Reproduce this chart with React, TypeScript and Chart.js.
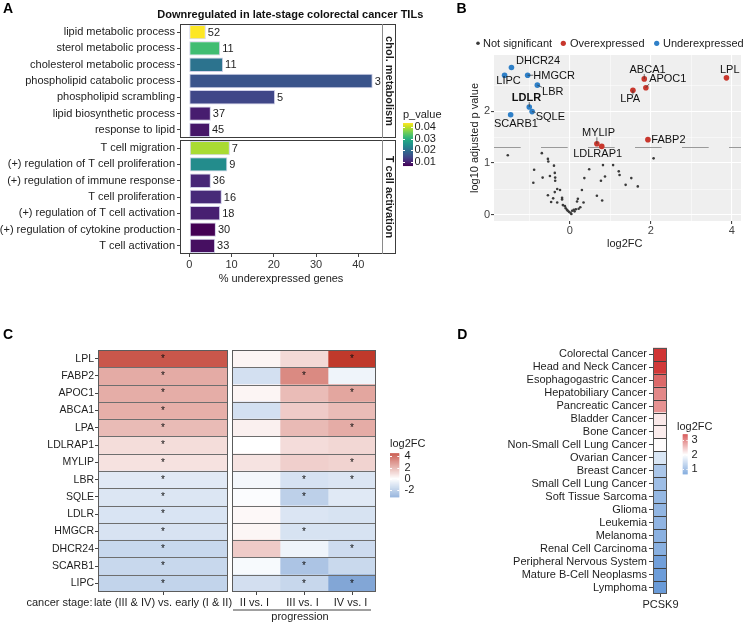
import React, { useEffect, useRef } from "react";
import { Chart, registerables } from "chart.js";

Chart.register(...registerables);

const FONT = "'Liberation Sans', Arial, Helvetica, sans-serif";
Chart.defaults.font.family = FONT;
Chart.defaults.font.size = 11;
Chart.defaults.color = "#222";

const W = 745;
const H = 624;

/* ---------------- Panel A data ---------------- */
const A_CHOL_TERMS = [
  "lipid metabolic process",
  "sterol metabolic process",
  "cholesterol metabolic process",
  "phospholipid catabolic process",
  "phospholipid scrambling",
  "lipid biosynthetic process",
  "response to lipid",
];
const A_CHOL_PCT = [3.9, 7.3, 8.0, 43.4, 20.3, 5.1, 4.9];
const A_CHOL_N = [52, 11, 11, 3, 5, 37, 45];
const A_CHOL_P = [0.0435, 0.032, 0.0206, 0.0161, 0.0143, 0.0095, 0.0087];

const A_TCELL_TERMS = [
  "T cell migration",
  "(+) regulation of T cell proliferation",
  "(+) regulation of immune response",
  "T cell proliferation",
  "(+) regulation of T cell activation",
  "(+) regulation of cytokine production",
  "T cell activation",
];
const A_TCELL_PCT = [9.6, 9.0, 5.1, 7.7, 7.3, 6.3, 6.1];
const A_TCELL_N = [7, 9, 36, 16, 18, 30, 33];
const A_TCELL_P = [0.0387, 0.0243, 0.0106, 0.0109, 0.0098, 0.0065, 0.008];

const A_X_TICKS = [0, 10, 20, 30, 40];
const A_P_TICKS = [0.01, 0.02, 0.03, 0.04];
const A_STRIPS = ["chol. metabolism", "T cell activation"];

/* ---------------- Panel B data ---------------- */
const B_NS_X = [-1.53, -0.69, -0.54, -0.53, -0.88, -0.39, -0.37, -0.67, -0.49, -0.36, -0.36, -0.9, -0.31, -0.24, -0.37, -0.54, -0.41, -0.19, -0.19, -0.46, -0.31, -0.12, -0.1, -0.07, -0.02, 0.02, 0.06, 0.1, 0.15, 0.22, 0.26, 0.18, 0.2, 0.34, 0.3, 0.36, 0.48, 0.82, 1.07, 0.87, 0.77, 1.21, 1.23, 1.52, 1.38, 1.68, 0.67, 0.8, 2.07, -0.17, -0.05, 0.04, 0.12];
const B_NS_Y = [1.15, 1.19, 1.08, 1.03, 0.87, 0.95, 0.81, 0.72, 0.75, 0.72, 0.66, 0.62, 0.5, 0.48, 0.44, 0.38, 0.32, 0.33, 0.3, 0.25, 0.24, 0.17, 0.13, 0.1, 0.06, 0.04, 0.08, 0.1, 0.11, 0.12, 0.15, 0.26, 0.31, 0.24, 0.48, 0.71, 0.88, 0.96, 0.96, 0.74, 0.66, 0.84, 0.77, 0.71, 0.58, 0.55, 0.37, 0.28, 1.09, 0.19, 0.08, 0.02, 0.07];
const B_UP_GENES = ["ABCA1", "APOC1", "LPA", "LPL", "MYLIP", "LDLRAP1", "FABP2"];
const B_UP_X = [1.84, 1.88, 1.56, 3.87, 0.67, 0.79, 1.93];
const B_UP_Y = [2.62, 2.45, 2.4, 2.64, 1.37, 1.32, 1.45];
const B_DOWN_GENES = ["DHCR24", "LIPC", "HMGCR", "LBR", "LDLR", "SQLE", "SCARB1"];
const B_DOWN_X = [-1.44, -1.61, -1.04, -0.8, -1.0, -0.93, -1.46];
const B_DOWN_Y = [2.84, 2.69, 2.69, 2.5, 2.08, 1.99, 1.93];
const B_THRESHOLD = 1.3;
const B_X_MAJOR = [0, 2, 4];
const B_X_MINOR = [-1, 1, 3];
const B_Y_MAJOR = [0, 1, 2];
const B_Y_MINOR = [0.5, 1.5, 2.5];
const B_LEGEND = ["Not significant", "Overexpressed", "Underexpressed"];

/* label placement (pixel offsets of text centre from its point; draw leader segment?) */
const B_LABEL_PLACE: Record<string, [number, number, boolean]> = {
  DHCR24: [26.6, -6, false],
  LIPC: [4, 5.5, false],
  HMGCR: [26.4, 0.3, true],
  LBR: [15.4, 6.7, true],
  LDLR: [-2.8, -9.4, true],
  SQLE: [18.3, 5.3, true],
  SCARB1: [5.3, 9, false],
  ABCA1: [3.3, -9.3, true],
  APOC1: [21.9, -8.3, true],
  LPA: [-2.8, 9, true],
  LPL: [3.3, -8.3, false],
  MYLIP: [1.6, -11, true],
  LDLRAP1: [-4.1, 8, false],
  FABP2: [20.5, 0.7, false],
};

/* ---------------- Panel C data ---------------- */
const C_GENES = ["LPL", "FABP2", "APOC1", "ABCA1", "LPA", "LDLRAP1", "MYLIP", "LBR", "SQLE", "LDLR", "HMGCR", "DHCR24", "SCARB1", "LIPC"];
const C_LATE_VS_EARLY = [3.87, 1.93, 1.88, 1.84, 1.56, 0.79, 0.67, -0.8, -0.93, -1.0, -1.04, -1.44, -1.46, -1.61];
const C_II_VS_I = [0.23, -1.15, 0.23, -1.15, 0.34, 0.0, 0.64, -0.29, -0.1, 0.16, 0.21, 1.19, -0.2, -1.17];
const C_III_VS_I = [0.87, 2.69, 1.54, 1.19, 1.59, 0.8, 1.1, -1.08, -1.74, -0.95, -1.05, -0.42, -2.18, -1.49];
const C_IV_VS_I = [4.55, -0.42, 2.05, 1.54, 1.91, 0.92, 1.01, -0.95, -0.83, -1.05, -1.05, -1.32, -1.42, -3.3];
const C_SIG_LATE = [1, 1, 1, 1, 1, 1, 1, 1, 1, 1, 1, 1, 1, 1];
const C_SIG_II = [0, 0, 0, 0, 0, 0, 0, 0, 0, 0, 0, 0, 0, 0];
const C_SIG_III = [0, 1, 0, 0, 0, 0, 0, 1, 1, 0, 1, 0, 1, 1];
const C_SIG_IV = [1, 0, 1, 0, 1, 0, 1, 1, 0, 0, 0, 1, 0, 1];
const C_PROG_LABELS = ["II vs. I", "III vs. I", "IV vs. I"];
const C_LEGEND_TICKS = [4, 2, 0, -2];

/* ---------------- Panel D data ---------------- */
const D_CANCERS = [
  "Colorectal Cancer",
  "Head and Neck Cancer",
  "Esophagogastric Cancer",
  "Hepatobiliary Cancer",
  "Pancreatic Cancer",
  "Bladder Cancer",
  "Bone Cancer",
  "Non-Small Cell Lung Cancer",
  "Ovarian Cancer",
  "Breast Cancer",
  "Small Cell Lung Cancer",
  "Soft Tissue Sarcoma",
  "Glioma",
  "Leukemia",
  "Melanoma",
  "Renal Cell Carcinoma",
  "Peripheral Nervous System",
  "Mature B-Cell Neoplasms",
  "Lymphoma",
];
const D_PCSK9 = [3.41, 3.38, 3.05, 2.83, 2.76, 2.16, 2.13, 2.03, 1.66, 1.24, 1.13, 1.05, 1.01, 1.0, 0.96, 0.94, 0.72, 0.69, 0.66];
const D_MID = 2;
const D_LEGEND_TICKS = [3, 2, 1];

/* ---------------- colour helpers ---------------- */
type RGB = number[];
const hexRGB = (h: string): RGB => [1, 3, 5].map((i) => parseInt(h.slice(i, i + 2), 16));
const mixRGB = (a: RGB, b: RGB, t: number): string => {
  const u = Math.max(0, Math.min(1, t));
  const c = a.map((v, i) => Math.round(v + (b[i] - v) * u));
  return `rgb(${c[0]},${c[1]},${c[2]})`;
};
const VIRIDIS = ["#440154", "#482475", "#414487", "#355f8d", "#2a788e", "#21918c", "#22a884", "#44bf70", "#7ad151", "#bddf26", "#fde725"].map(hexRGB);
function viridis(t: number): string {
  const u = Math.max(0, Math.min(1, t)) * (VIRIDIS.length - 1);
  const i = Math.min(Math.floor(u), VIRIDIS.length - 2);
  return mixRGB(VIRIDIS[i], VIRIDIS[i + 1], u - i);
}
const WHITE = [255, 255, 255];
function diverging(v: number, lo: number, mid: number, hi: number, cLo: RGB, cHi: RGB) {
  return v >= mid ? mixRGB(WHITE, cHi, (v - mid) / (hi - mid)) : mixRGB(WHITE, cLo, (mid - v) / (mid - lo));
}

const A_ALL_P = [...A_CHOL_P, ...A_TCELL_P];
const P_MIN = Math.min(...A_ALL_P);
const P_MAX = Math.max(...A_ALL_P);
const pColor = (p: number) => viridis((p - P_MIN) / (P_MAX - P_MIN));

const C_ALL = [...C_LATE_VS_EARLY, ...C_II_VS_I, ...C_III_VS_I, ...C_IV_VS_I];
const C_MIN = Math.min(...C_ALL);
const C_MAX = Math.max(...C_ALL);
const C_LOW = hexRGB("#82a6d6");
const C_HIGH = hexRGB("#c0392b");
const cColor = (v: number) => diverging(v, C_MIN, 0, C_MAX, C_LOW, C_HIGH);

const D_MIN = Math.min(...D_PCSK9);
const D_MAXV = Math.max(...D_PCSK9);
const D_LOW = hexRGB("#6a9bd8");
const D_HIGH = hexRGB("#d03535");
const dColor = (v: number) => diverging(v, D_MIN, D_MID, D_MAXV, D_LOW, D_HIGH);

const RED = "#c8372d";
const BLUE = "#2f80c8";
const GREY = "#3a3a3a";

/* ---------------- drawing helpers ---------------- */
const fnt = (size: number, bold = false) => `${bold ? "bold " : ""}${size}px ${FONT}`;
function txt(ctx: any, s: string, x: number, y: number, size: number, o: any = {}) {
  ctx.save();
  ctx.font = fnt(size, o.bold);
  ctx.fillStyle = o.color || "#1e1e1e";
  ctx.textAlign = o.align || "left";
  ctx.textBaseline = o.baseline || "middle";
  ctx.fillText(s, x, y);
  ctx.restore();
}
function seg(ctx: any, x1: number, y1: number, x2: number, y2: number, color: string, width = 1, dash: number[] = []) {
  ctx.save();
  ctx.strokeStyle = color;
  ctx.lineWidth = width;
  ctx.setLineDash(dash);
  ctx.beginPath();
  ctx.moveTo(x1, y1);
  ctx.lineTo(x2, y2);
  ctx.stroke();
  ctx.restore();
}
function box(ctx: any, x1: number, y1: number, x2: number, y2: number, color: string, width = 1) {
  ctx.save();
  ctx.strokeStyle = color;
  ctx.lineWidth = width;
  ctx.strokeRect(Math.round(x1) + 0.5, Math.round(y1) + 0.5, Math.round(x2) - Math.round(x1) - 1, Math.round(y2) - Math.round(y1) - 1);
  ctx.restore();
}
/* colour bar: f=0 at top, 1 at bottom */
function colorbar(ctx: any, x: number, y: number, w: number, h: number, colorAt: (f: number) => string, tickF: number[], labels: string[], labelX: number) {
  const n = Math.round(h);
  for (let k = 0; k < n; k++) {
    ctx.fillStyle = colorAt((k + 0.5) / n);
    ctx.fillRect(x, y + k, w, 1.05);
  }
  tickF.forEach((f, i) => {
    const ty = Math.round(y + f * h) + 0.5;
    seg(ctx, x, ty, x + Math.min(2, w * 0.25), ty, "#fff", 1);
    seg(ctx, x + w - Math.min(2, w * 0.25), ty, x + w, ty, "#fff", 1);
    txt(ctx, labels[i], labelX, y + f * h, 11);
  });
}
function rowBoundaries(chart: any, n: number): number[] {
  const y = chart.scales.y;
  const out: number[] = [];
  for (let i = 1; i < n; i++) out.push((y.getPixelForTick(i - 1) + y.getPixelForTick(i)) / 2);
  return out;
}

/* ---------------- Panel A ---------------- */
const A_LEFT = 180;
const A_RIGHT = 382;
const A_STRIP = 14;
const A_X_MIN = -2.2;
const A_X_MAX = 45.6;

function facetPlugin(strip: string, counts: number[], extra?: (ctx: any) => void) {
  return {
    id: "facet",
    afterDraw(chart: any) {
      const { ctx, chartArea: ca } = chart;
      const meta = chart.getDatasetMeta(0);
      meta.data.forEach((bar: any, i: number) => {
        txt(ctx, String(counts[i]), bar.x + 2, bar.y + 0.5, 11);
      });
      box(ctx, ca.left, ca.top, ca.right + A_STRIP, ca.bottom, "#3c3c3c");
      seg(ctx, Math.round(ca.right) + 0.5, ca.top, Math.round(ca.right) + 0.5, ca.bottom, "#8a8a8a");
      ctx.save();
      ctx.translate(ca.right + A_STRIP / 2 + 0.5, (ca.top + ca.bottom) / 2);
      ctx.rotate(Math.PI / 2);
      txt(ctx, strip, 0, 0, 11, { bold: true, align: "center" });
      ctx.restore();
      if (extra) extra(ctx);
    },
  };
}

function facetConfig(terms: string[], pct: number[], pv: number[], counts: number[], strip: string, top: number, bottom: number, showX: boolean, extra?: (ctx: any) => void) {
  const XH = 33;
  const xScale: any = {
    type: "linear",
    display: showX,
    min: A_X_MIN,
    max: A_X_MAX,
    afterBuildTicks: (s: any) => {
      s.ticks = A_X_TICKS.map((v) => ({ value: v }));
    },
    border: { display: false },
    grid: { drawOnChartArea: false, tickLength: 3, color: "#444" },
    ticks: { color: "#333", padding: 1, maxRotation: 0, autoSkip: false, font: { size: 11 } },
    title: { display: true, text: "% underexpressed genes", color: "#222", font: { size: 11 }, padding: { top: 0, bottom: 1 } },
  };
  if (showX) {
    xScale.afterFit = (s: any) => {
      s.height = XH;
    };
  }
  return {
    type: "bar",
    data: {
      labels: terms,
      datasets: [
        {
          data: pct,
          backgroundColor: pv.map(pColor),
          borderColor: "#cfd0e8",
          borderWidth: 1,
          borderSkipped: false,
          barPercentage: 0.88,
          categoryPercentage: 1,
        },
      ],
    },
    options: {
      indexAxis: "y",
      animation: false,
      responsive: false,
      events: [],
      layout: { padding: { left: 0, right: W - A_RIGHT, top, bottom: H - bottom - (showX ? XH : 0) } },
      plugins: { legend: { display: false }, tooltip: { enabled: false } },
      scales: {
        x: xScale,
        y: {
          afterFit: (s: any) => {
            s.width = A_LEFT;
          },
          border: { display: false },
          grid: { offset: false, drawOnChartArea: false, tickLength: 3, color: "#444" },
          ticks: { autoSkip: false, padding: 2, color: "#222", font: { size: 11 } },
        },
      },
    },
    plugins: [facetPlugin(strip, counts, extra)],
  };
}

const makeA1 = () =>
  facetConfig(A_CHOL_TERMS, A_CHOL_PCT, A_CHOL_P, A_CHOL_N, A_STRIPS[0], 24, 138, false, (ctx) => {
    txt(ctx, "A", 3, 9.5, 14, { bold: true, color: "#000" });
    txt(ctx, "Downregulated in late-stage colorectal cancer TILs", 290.3, 14.5, 11, { bold: true, align: "center", color: "#111" });
  });

const makeA2 = () =>
  facetConfig(A_TCELL_TERMS, A_TCELL_PCT, A_TCELL_P, A_TCELL_N, A_STRIPS[1], 140, 254, true, (ctx) => {
    txt(ctx, "p_value", 403, 115, 11);
    const top = 123, h = 43;
    colorbar(
      ctx, 403, top, 10, h,
      (f) => viridis(1 - f),
      A_P_TICKS.map((p) => (P_MAX - p) / (P_MAX - P_MIN)),
      A_P_TICKS.map((p) => p.toFixed(2)),
      414.5
    );
  });

/* ---------------- Panel B ---------------- */
const B_LEFT = 494;
const B_RIGHT = 745;
const B_TOP = 55;
const B_BOTTOM = 221;
const B_YAXIS_W = 30;
const B_XAXIS_H = 29;

const makeB = () => ({
  type: "scatter",
  data: {
    datasets: [
      { label: B_LEGEND[0], data: B_NS_X.map((x, i) => ({ x, y: B_NS_Y[i] })), backgroundColor: GREY, pointRadius: 1.3, borderWidth: 0 },
      { label: B_LEGEND[1], data: B_UP_X.map((x, i) => ({ x, y: B_UP_Y[i] })), backgroundColor: RED, pointRadius: 2.8, borderWidth: 0 },
      { label: B_LEGEND[2], data: B_DOWN_X.map((x, i) => ({ x, y: B_DOWN_Y[i] })), backgroundColor: BLUE, pointRadius: 2.8, borderWidth: 0 },
    ],
  },
  options: {
    animation: false,
    responsive: false,
    events: [],
    layout: { padding: { left: B_LEFT - B_YAXIS_W, right: W - B_RIGHT, top: B_TOP, bottom: H - B_BOTTOM - B_XAXIS_H } },
    plugins: { legend: { display: false }, tooltip: { enabled: false } },
    scales: {
      x: {
        type: "linear",
        min: -1.871,
        max: 4.229,
        afterBuildTicks: (s: any) => {
          s.ticks = [...B_X_MINOR, ...B_X_MAJOR].sort((a, b) => a - b).map((v) => ({ value: v }));
        },
        afterFit: (s: any) => {
          s.height = B_XAXIS_H;
        },
        border: { display: false },
        grid: {
          color: "#ffffff",
          lineWidth: (c: any) => (B_X_MAJOR.includes(c.tick && c.tick.value) ? 1.1 : 0.5),
          tickLength: 3,
          tickColor: (c: any) => (B_X_MAJOR.includes(c.tick && c.tick.value) ? "#444" : "rgba(0,0,0,0)"),
        },
        ticks: {
          callback: (v: any) => (B_X_MAJOR.includes(v) ? String(v) : ""),
          color: "#444",
          padding: 0,
          maxRotation: 0,
          autoSkip: false,
          font: { size: 11 },
        },
        title: { display: false },
      },
      y: {
        type: "linear",
        min: -0.116,
        max: 3.08,
        afterBuildTicks: (s: any) => {
          s.ticks = [...B_Y_MAJOR, ...B_Y_MINOR].sort((a, b) => a - b).map((v) => ({ value: v }));
        },
        afterFit: (s: any) => {
          s.width = B_YAXIS_W;
        },
        border: { display: false },
        grid: {
          color: "#ffffff",
          lineWidth: (c: any) => (B_Y_MAJOR.includes(c.tick && c.tick.value) ? 1.1 : 0.5),
          tickLength: 3,
          tickColor: (c: any) => (B_Y_MAJOR.includes(c.tick && c.tick.value) ? "#444" : "rgba(0,0,0,0)"),
        },
        ticks: {
          callback: (v: any) => (B_Y_MAJOR.includes(v) ? String(v) : ""),
          color: "#444",
          padding: 1,
          autoSkip: false,
          font: { size: 11 },
        },
        title: { display: true, text: "log10 adjusted p value", color: "#222", font: { size: 11 }, padding: { top: 4, bottom: 0 } },
      },
    },
  },
  plugins: [
    {
      id: "bBg",
      beforeDraw(chart: any) {
        const { ctx, chartArea: ca } = chart;
        ctx.save();
        ctx.fillStyle = "#efefef";
        ctx.fillRect(ca.left, ca.top, ca.right - ca.left, ca.bottom - ca.top);
        ctx.restore();
      },
      beforeDatasetsDraw(chart: any) {
        const { ctx, chartArea: ca, scales } = chart;
        const y = Math.round(scales.y.getPixelForValue(B_THRESHOLD)) + 0.5;
        seg(ctx, ca.left, y, ca.right, y, "#9a9a9a", 1, [26.7, 20.3]);
      },
      afterDraw(chart: any) {
        const { ctx, scales } = chart;
        const sx = scales.x, sy = scales.y;
        const put = (genes: string[], xs: number[], ys: number[]) => {
          genes.forEach((g, i) => {
            const px = sx.getPixelForValue(xs[i]);
            const py = sy.getPixelForValue(ys[i]);
            const [dx, dy, lead] = B_LABEL_PLACE[g] || [0, -9, false];
            const cx = px + dx, cy = py + dy;
            const bold = g === "LDLR";
            ctx.save();
            ctx.font = fnt(11, bold);
            const tw = ctx.measureText(g).width;
            ctx.restore();
            if (lead) {
              const bx = Math.max(cx - tw / 2, Math.min(px, cx + tw / 2));
              const by = Math.max(cy - 4.5, Math.min(py, cy + 4.5));
              if (Math.hypot(bx - px, by - py) > 2.5) seg(ctx, px, py, bx, by, "#333", 0.7);
            }
            txt(ctx, g, cx, cy, 11, { bold, align: "center", color: "#111" });
          });
        };
        put(B_DOWN_GENES, B_DOWN_X, B_DOWN_Y);
        put(B_UP_GENES, B_UP_X, B_UP_Y);
        txt(ctx, "log2FC", 624.7, 243.5, 11, { align: "center", color: "#222" });
        const items: [number, number, string, number][] = [
          [478, 483, GREY, 1.8],
          [563.3, 570, RED, 2.6],
          [656.7, 663, BLUE, 2.6],
        ];
        items.forEach(([dx, tx, col, r], i) => {
          ctx.save();
          ctx.fillStyle = col;
          ctx.beginPath();
          ctx.arc(dx, 43.3, r, 0, Math.PI * 2);
          ctx.fill();
          ctx.restore();
          txt(ctx, B_LEGEND[i], tx, 43.5, 11, { color: "#222" });
        });
        txt(ctx, "B", 456.5, 9.5, 14, { bold: true, color: "#000" });
      },
    },
  ],
});

/* ---------------- Panel C ---------------- */
const C_TOP = 350;
const C_BOTTOM = 592;
const CL_LEFT = 98;
const CL_RIGHT = 228;
const CR_LEFT = 232;
const CR_RIGHT = 376;
const C_LINE = "#6e6e6e";

function drawStars(ctx: any, chart: any, sigs: number[][]) {
  sigs.forEach((sig, di) => {
    const meta = chart.getDatasetMeta(di);
    meta.data.forEach((bar: any, i: number) => {
      if (sig[i]) txt(ctx, "*", (bar.x + bar.base) / 2, bar.y + 0.5, 10, { align: "center", color: "#111" });
    });
  });
}
function drawRows(ctx: any, chart: any) {
  const ca = chart.chartArea;
  rowBoundaries(chart, C_GENES.length).forEach((y) => {
    const yy = Math.round(y) + 0.5;
    seg(ctx, ca.left, yy, ca.right, yy, C_LINE, 1);
  });
  box(ctx, ca.left, ca.top, ca.right, ca.bottom, "#5c5c5c");
}

const makeCL = () => ({
  type: "bar",
  data: {
    labels: C_GENES,
    datasets: [
      {
        data: C_GENES.map(() => 1),
        backgroundColor: C_LATE_VS_EARLY.map(cColor),
        borderWidth: 0,
        barPercentage: 1,
        categoryPercentage: 1,
      },
    ],
  },
  options: {
    indexAxis: "y",
    animation: false,
    responsive: false,
    events: [],
    layout: { padding: { left: 0, right: W - CL_RIGHT, top: C_TOP, bottom: H - C_BOTTOM } },
    plugins: { legend: { display: false }, tooltip: { enabled: false } },
    scales: {
      x: { type: "linear", display: false, min: 0, max: 1 },
      y: {
        afterFit: (s: any) => {
          s.width = CL_LEFT;
        },
        border: { display: false },
        grid: { offset: false, drawOnChartArea: false, tickLength: 3, color: "#444" },
        ticks: { autoSkip: false, padding: 1, color: "#1e1e1e", font: { size: 10.5 } },
      },
    },
  },
  plugins: [
    {
      id: "cl",
      afterDraw(chart: any) {
        const { ctx, chartArea: ca } = chart;
        drawRows(ctx, chart);
        drawStars(ctx, chart, [C_SIG_LATE]);
        const cx = (ca.left + ca.right) / 2;
        seg(ctx, Math.round(cx) + 0.5, ca.bottom, Math.round(cx) + 0.5, ca.bottom + 3, "#444");
        txt(ctx, "late (III & IV) vs. early (I & II)", cx, 602.5, 11, { align: "center" });
        txt(ctx, "cancer stage:", 92.5, 602.5, 11, { align: "right" });
        txt(ctx, "C", 3, 335, 14, { bold: true, color: "#000" });
      },
    },
  ],
});

const makeCR = () => ({
  type: "bar",
  data: {
    labels: C_GENES,
    datasets: [C_II_VS_I, C_III_VS_I, C_IV_VS_I].map((vals, k) => ({
      label: C_PROG_LABELS[k],
      data: C_GENES.map(() => 1),
      backgroundColor: vals.map(cColor),
      borderWidth: 0,
      barPercentage: 1,
      categoryPercentage: 1,
    })),
  },
  options: {
    indexAxis: "y",
    animation: false,
    responsive: false,
    events: [],
    layout: { padding: { left: CR_LEFT, right: W - CR_RIGHT, top: C_TOP, bottom: H - C_BOTTOM } },
    plugins: { legend: { display: false }, tooltip: { enabled: false } },
    scales: {
      x: { type: "linear", display: false, min: 0, max: 3, stacked: true },
      y: { display: false, stacked: true },
    },
  },
  plugins: [
    {
      id: "cr",
      afterDraw(chart: any) {
        const { ctx, chartArea: ca } = chart;
        drawRows(ctx, chart);
        drawStars(ctx, chart, [C_SIG_II, C_SIG_III, C_SIG_IV]);
        const sx = chart.scales.x;
        C_PROG_LABELS.forEach((lab, k) => {
          const cx = sx.getPixelForValue(k + 0.5);
          seg(ctx, Math.round(cx) + 0.5, ca.bottom, Math.round(cx) + 0.5, ca.bottom + 3, "#444");
          txt(ctx, lab, cx - 1.5, 602.5, 11, { align: "center" });
        });
        seg(ctx, 233, 610, 371, 610, "#a0a0a0", 2);
        txt(ctx, "progression", 300, 617, 11, { align: "center" });
        txt(ctx, "log2FC", 390, 443.5, 11);
        const top = 453.3, h = 44;
        colorbar(
          ctx, 390, top, 9.3, h,
          (f) => cColor(C_MAX - f * (C_MAX - C_MIN)),
          C_LEGEND_TICKS.map((v) => (C_MAX - v) / (C_MAX - C_MIN)),
          C_LEGEND_TICKS.map((v) => String(v)),
          404.5
        );
      },
    },
  ],
});

/* ---------------- Panel D ---------------- */
const D_LEFT = 653;
const D_RIGHT = 667;
const D_TOP = 347.7;
const D_BOTTOM = 594;
const D_YAXIS_W = 200;

const makeD = () => ({
  type: "bar",
  data: {
    labels: D_CANCERS,
    datasets: [
      {
        label: "PCSK9",
        data: D_CANCERS.map(() => 1),
        backgroundColor: D_PCSK9.map(dColor),
        borderWidth: 0,
        barPercentage: 1,
        categoryPercentage: 1,
      },
    ],
  },
  options: {
    indexAxis: "y",
    animation: false,
    responsive: false,
    events: [],
    layout: { padding: { left: D_LEFT - D_YAXIS_W, right: W - D_RIGHT, top: D_TOP, bottom: H - D_BOTTOM } },
    plugins: { legend: { display: false }, tooltip: { enabled: false } },
    scales: {
      x: { type: "linear", display: false, min: 0, max: 1 },
      y: {
        afterFit: (s: any) => {
          s.width = D_YAXIS_W;
        },
        border: { display: false },
        grid: { offset: false, drawOnChartArea: false, tickLength: 4, color: "#444" },
        ticks: { autoSkip: false, padding: 2, color: "#1e1e1e", font: { size: 11 } },
      },
    },
  },
  plugins: [
    {
      id: "d",
      afterDraw(chart: any) {
        const { ctx, chartArea: ca } = chart;
        const y = chart.scales.y;
        for (let i = 1; i < D_CANCERS.length; i++) {
          const yy = Math.round((y.getPixelForTick(i - 1) + y.getPixelForTick(i)) / 2) + 0.5;
          seg(ctx, ca.left, yy, ca.right, yy, "#3f3f3f", 1);
        }
        box(ctx, ca.left, ca.top, ca.right, ca.bottom, "#555");
        const cx = Math.round((ca.left + ca.right) / 2) + 0.5;
        seg(ctx, cx, ca.bottom, cx, ca.bottom + 3, "#444");
        txt(ctx, "PCSK9", cx, 604.5, 11, { align: "center" });
        txt(ctx, "D", 457.3, 335, 14, { bold: true, color: "#000" });
        txt(ctx, "log2FC", 677, 426.7, 11);
        const top = 434.3, h = 39.7;
        colorbar(
          ctx, 682.7, top, 5, h,
          (f) => dColor(D_MAXV - f * (D_MAXV - D_MIN)),
          D_LEGEND_TICKS.map((v) => (D_MAXV - v) / (D_MAXV - D_MIN)),
          D_LEGEND_TICKS.map((v) => String(v)),
          691.5
        );
      },
    },
  ],
});

/* ---------------- React ---------------- */
function ChartLayer({ make }: { make: () => any }) {
  const ref = useRef<HTMLCanvasElement | null>(null);
  useEffect(() => {
    if (!ref.current) return;
    const chart = new Chart(ref.current, make());
    return () => chart.destroy();
  }, [make]);
  return (
    <canvas
      ref={ref}
      width={W}
      height={H}
      style={{ position: "absolute", left: 0, top: 0, width: W, height: H, pointerEvents: "none" }}
    />
  );
}

const LAYERS = [makeA1, makeA2, makeB, makeCL, makeCR, makeD];

export default function App() {
  return (
    <div style={{ position: "absolute", left: 0, top: 0, width: W, height: H, background: "#fff", overflow: "hidden" }}>
      {LAYERS.map((m, i) => (
        <ChartLayer key={i} make={m} />
      ))}
    </div>
  );
}
